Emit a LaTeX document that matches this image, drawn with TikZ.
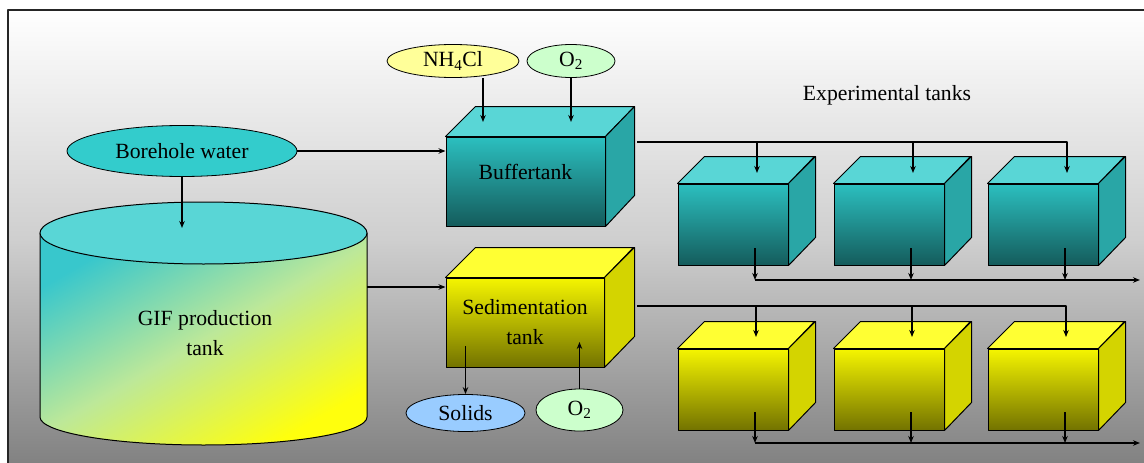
\documentclass[tikz,border=0pt]{standalone}
\usepackage{fontspec}
\setmainfont{Liberation Serif}
\usetikzlibrary{arrows.meta,shapes.geometric}
\definecolor{tealtop}{rgb}{0.35,0.84,0.84}
\definecolor{tealside}{rgb}{0.16,0.65,0.65}
\definecolor{tealhi}{rgb}{0.17,0.75,0.75}
\definecolor{teallo}{rgb}{0.08,0.36,0.36}
\definecolor{yeltop}{rgb}{1,1,0.2}
\definecolor{yelside}{rgb}{0.83,0.83,0}
\definecolor{yelhi}{rgb}{0.96,0.96,0}
\definecolor{yello}{rgb}{0.45,0.45,0}
\definecolor{waterfill}{rgb}{0.2,0.8,0.8}
\definecolor{saltfill}{rgb}{1,1,0.6}
\definecolor{airfill}{rgb}{0.8,1,0.8}
\definecolor{solidfill}{rgb}{0.6,0.8,1}
\definecolor{gifcyan}{rgb}{0.22,0.78,0.8}
\definecolor{gifmid}{rgb}{0.74,0.91,0.6}
\definecolor{gifyellow}{rgb}{1,1,0.05}
\begin{document}
\begin{tikzpicture}[
		x=1pt, y=-1pt,
		>={Stealth[length=7pt,width=5.5pt]},
		line join=round,
		font=\fontsize{21.7}{30}\selectfont,
		feed/.style={ellipse, draw, line width=0.8pt, inner sep=0pt},
		tankfront/.style={draw, line width=1pt, inner sep=0pt, minimum width=110, minimum height=81},
		tankface/.style={draw, line width=1pt},
		pipe/.style={line width=1.2pt}
		]
		\useasboundingbox (0,0) rectangle (1144,463);
		\clip (0,0) rectangle (1144,463);
		\fill[white] (0,0) rectangle (1144,463);
		\shade[top color=white, bottom color=black!50, middle color=black!19, draw=black!85, line width=1.5pt] (8,10) rectangle (1150,470);

		% GIF production tank
		\shade[draw, line width=1pt, top color=gifcyan, bottom color=gifyellow, middle color=gifmid, shading angle=30]
		(40,233) -- (40,417) .. controls (40,432.5) and (113.2,445) .. (203.5,445)
		.. controls (293.8,445) and (367,432.5) .. (367,417) -- (367,233) -- cycle;
		\draw[line width=1pt, fill=tealtop] (203.5,233) ellipse [x radius=163.5, y radius=31];
		\node[align=center] (gif) at (205,333) {GIF production\\tank};
		\coordinate (gif-in) at (182,228);
		\coordinate (gif-out) at (367,287);

		% buffer tank
		\node[tankfront, minimum width=159, minimum height=89, top color=tealhi, bottom color=teallo, text depth=19pt] (buffer) at (525.5,181.5) {Buffertank};
		\draw[tankface, fill=tealtop] (buffer.north west) -- ++(30,-30) -- ++(159,0) -- (buffer.north east) -- cycle;
		\draw[tankface, fill=tealside] (buffer.north east) -- ++(29,-30) -- ++(0,89) -- (buffer.south east) -- cycle;
		\coordinate (buf-in) at (483,122);
		\coordinate (buf-out) at (637,142);

		% sedimentation tank
		\node[tankfront, minimum width=158, minimum height=89, top color=yelhi, bottom color=yello, align=center] (sed) at (525,322.5) {Sedimentation\\tank};
		\draw[tankface, fill=yeltop] (sed.north west) -- ++(30,-30) -- ++(158,0) -- (sed.north east) -- cycle;
		\draw[tankface, fill=yelside] (sed.north east) -- ++(30,-30) -- ++(0,89) -- (sed.south east) -- cycle;
		\coordinate (sed-solids) at (465.5,346);
		\coordinate (sed-air) at (579.5,342);
		\coordinate (sed-out) at (637,306);

		% feeds
		\node[feed, fill=waterfill, minimum width=230, minimum height=51] (borehole) at (182,151) {Borehole water};
		\node[feed, fill=saltfill, minimum width=132, minimum height=33] (nh4cl) at (453,61) {NH\textsubscript{4}Cl};
		\node[feed, fill=airfill, minimum width=88, minimum height=33] (air-top) at (571,61) {O\textsubscript{2}};
		\node[feed, fill=solidfill, minimum width=119, minimum height=37] (solids) at (465.5,413) {Solids};
		\node[feed, fill=airfill, minimum width=87, minimum height=42] (air-bot) at (579.5,410) {O\textsubscript{2}};

		\node (exp-title) at (887,95) {Experimental tanks};

		% experimental tanks
		\foreach \i/\x in {1/733,2/889,3/1043} {
			\node[tankfront, top color=tealhi, bottom color=teallo] (teal-\i) at (\x,224.5) {};
			\draw[tankface, fill=tealtop] (teal-\i.north west) -- ++(27,-27) -- ++(110,0) -- (teal-\i.north east) -- cycle;
			\draw[tankface, fill=tealside] (teal-\i.north east) -- ++(27,-27) -- ++(0,81) -- (teal-\i.south east) -- cycle;
			\coordinate (teal-in-\i) at (\x+24,173);
			\coordinate (teal-out-\i) at (\x+22,248);
			\node[tankfront, top color=yelhi, bottom color=yello] (yel-\i) at (\x,389.5) {};
			\draw[tankface, fill=yeltop] (yel-\i.north west) -- ++(27,-27) -- ++(110,0) -- (yel-\i.north east) -- cycle;
			\draw[tankface, fill=yelside] (yel-\i.north east) -- ++(27,-27) -- ++(0,81) -- (yel-\i.south east) -- cycle;
			\coordinate (yel-in-\i) at (\x+23,337);
			\coordinate (yel-out-\i) at (\x+22,412);
		}
		\coordinate (teal-end) at (1140,280);
		\coordinate (yel-end) at (1140,443);

		% connectors
		\begin{scope}[pipe,->]
		\draw (borehole.south) -- (gif-in);
		\draw (borehole.east) -- (borehole.east -| buffer.west);
		\draw (gif-out) -- (gif-out -| sed.west);
		\draw (nh4cl.south -| buf-in) -- (buf-in);
		\draw (air-top.south) -- (air-top.south |- buf-in);
		\draw (sed-solids) -- (sed-solids |- solids.north);
		\draw (air-bot.north) -- (sed-air);
		\draw (buf-out) -| (teal-in-3);
		\draw (sed-out) -| (yel-in-3);
		\foreach \i in {1,2} {
			\draw (buf-out -| teal-in-\i) -- (teal-in-\i);
			\draw (sed-out -| yel-in-\i) -- (yel-in-\i);
		}
		\foreach \i in {1,2,3} {
			\draw (teal-out-\i) -- (teal-out-\i |- teal-end);
			\draw (yel-out-\i) -- (yel-out-\i |- yel-end);
		}
		\draw (teal-out-1 |- teal-end) -- (teal-end);
		\draw (yel-out-1 |- yel-end) -- (yel-end);
		\end{scope}
		\end{tikzpicture}
\end{document}
